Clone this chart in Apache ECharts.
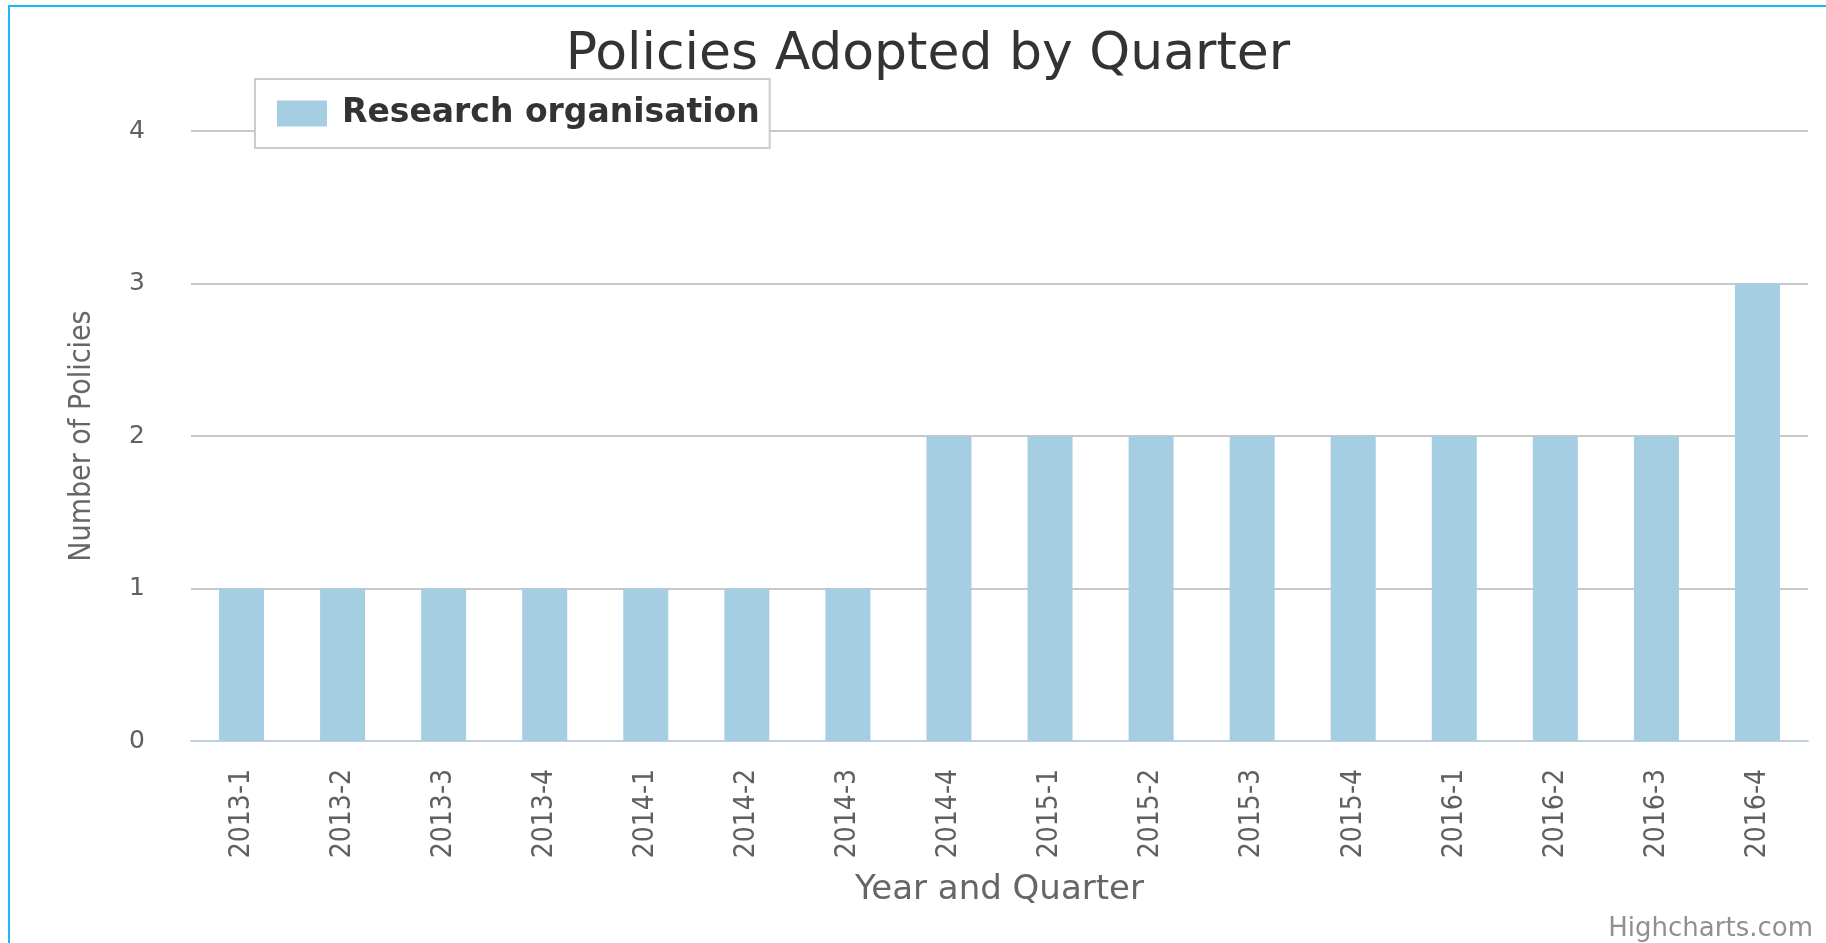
<!DOCTYPE html>
<html>
<head>
<meta charset="utf-8">
<title>Policies Adopted by Quarter</title>
<script src="https://cdn.jsdelivr.net/npm/echarts@6/dist/echarts.min.js"></script>
<style>
    html, body { margin: 0; padding: 0; background: #fff; }
    #chart { width: 1826px; height: 943px; }
    /* the page frame around the chart, only top and left edges show */
    .frame {
        position: absolute; left: 8px; top: 5px; width: 3000px; height: 3000px;
        border-top: 2px solid #1cb8f5; border-left: 2px solid #1cb8f5;
        pointer-events: none;
    }
</style>
</head>
<body>
<div id="chart"></div>
<div class="frame"></div>
<script>
// quarters on the x axis
const quarters = ['2013-1', '2013-2', '2013-3', '2013-4', '2014-1', '2014-2', '2014-3', '2014-4',
    '2015-1', '2015-2', '2015-3', '2015-4', '2016-1', '2016-2', '2016-3', '2016-4'];
// number of policies per quarter
const researchOrg = [1, 1, 1, 1, 1, 1, 1, 2, 2, 2, 2, 2, 2, 2, 2, 3];
const seriesName = 'Research organisation';

const myChart = echarts.init(document.getElementById('chart'));
myChart.setOption({
    animation: false,
    title: [
        {
            text: 'Policies Adopted by Quarter',
            left: 923,
            top: 24,
            textAlign: 'center',
            textStyle: { fontFamily: 'DejaVu Sans', fontWeight: 'normal', fontSize: 52, color: '#333333' }
        },
        {
            text: 'Highcharts.com',
            right: 8,
            top: 911,
            textStyle: { fontFamily: 'DejaVu Sans', fontWeight: 'normal', fontSize: 26, color: '#909090' }
        }
    ],
    legend: {
        left: 255,
        top: 79,
        padding: [18, 10, 18, 22],
        itemWidth: 50,
        itemHeight: 26,
        icon: 'rect',
        backgroundColor: '#ffffff',
        borderColor: '#cccccc',
        borderWidth: 2,
        textStyle: { fontFamily: 'DejaVu Sans', fontWeight: 'bold', fontSize: 33, color: '#333333', padding: [0, 0, 0, 10] },
        data: [seriesName]
    },
    grid: { left: 191, right: 18, top: 131, bottom: 202 },
    xAxis: {
        type: 'category',
        data: quarters,
        name: 'Year and Quarter',
        nameLocation: 'middle',
        nameGap: 132,
        nameTextStyle: { fontFamily: 'DejaVu Sans', fontSize: 34, color: '#666666' },
        axisLine: { lineStyle: { color: '#c0d0e0', width: 2 } },
        axisTick: { length: 22, lineStyle: { color: '#c0d0e0', width: 2 } },
        axisLabel: {
            rotate: 90,
            margin: 28,
            fontFamily: 'DejaVu Sans Condensed',
            fontSize: 28,
            color: '#606060'
        }
    },
    yAxis: {
        type: 'value',
        min: 0,
        max: 4,
        interval: 1,
        name: 'Number of Policies',
        nameLocation: 'middle',
        nameGap: 94,
        nameTextStyle: { fontFamily: 'DejaVu Sans Condensed', fontSize: 30, color: '#666666' },
        axisLine: { show: false },
        axisTick: { show: false },
        axisLabel: { margin: 46, fontFamily: 'DejaVu Sans', fontSize: 25, color: '#606060' },
        splitLine: { lineStyle: { color: '#c8c8c8', width: 2 } }
    },
    series: [
        {
            name: seriesName,
            type: 'bar',
            data: researchOrg,
            barWidth: 45,
            itemStyle: { color: '#a6cee3' }
        }
    ]
});
</script>
</body>
</html>
